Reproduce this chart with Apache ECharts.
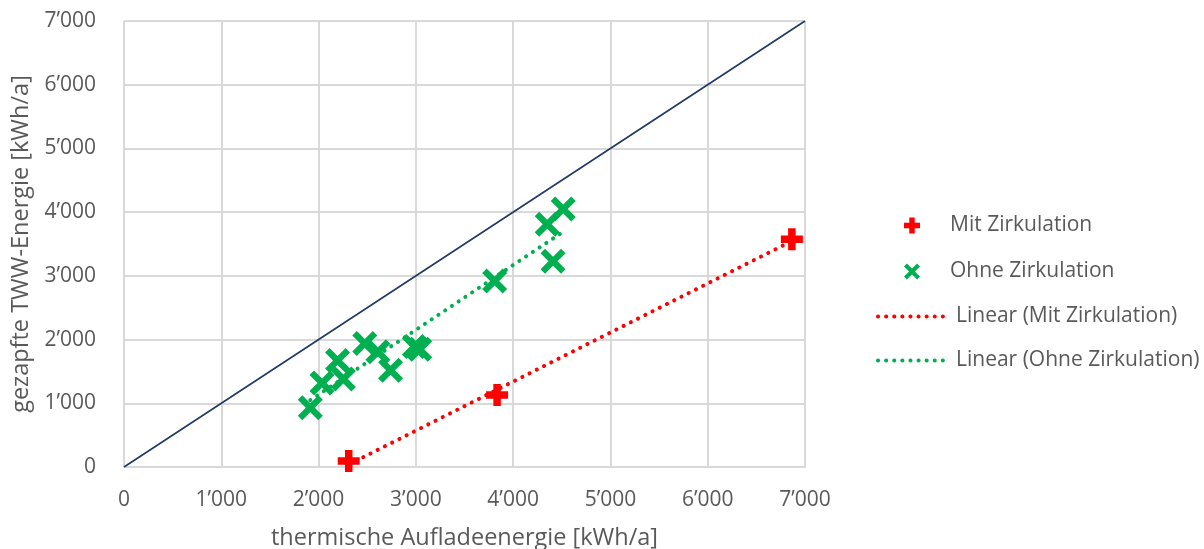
<!DOCTYPE html>
<html>
<head>
<meta charset="utf-8">
<script src="https://cdn.jsdelivr.net/npm/echarts@6/dist/echarts.min.js"></script>
<style>
  html, body { margin: 0; padding: 0; background: #fff; }
  #chart { width: 1204px; height: 549px; }
</style>
</head>
<body>
<div id="chart"></div>
<script>
// Measured systems: charging energy (x) vs. tapped hot-water energy (y), kWh/a
const mitZirkulation = [
  [2310, 95],
  [3835, 1130],
  [6865, 3575]
];
const ohneZirkulation = [
  [1915, 930],
  [2035, 1320],
  [2195, 1670],
  [2255, 1380],
  [2475, 1940],
  [2610, 1810],
  [2740, 1520],
  [2985, 1890],
  [3040, 1850],
  [3810, 2920],
  [4350, 3810],
  [4515, 4050],
  [4410, 3230]
];
// 1:1 reference line across the axis range
const diagonal = [[0, 0], [7000, 7000]];

const axisTicks = [0, 1000, 2000, 3000, 4000, 5000, 6000, 7000];

const seriesNames = {
  mit: 'Mit Zirkulation',
  ohne: 'Ohne Zirkulation',
  linMit: 'Linear (Mit Zirkulation)',
  linOhne: 'Linear (Ohne Zirkulation)'
};

// least-squares trend line spanning the data's x range
function trend(points) {
  const n = points.length;
  let sx = 0, sy = 0;
  points.forEach(p => { sx += p[0]; sy += p[1]; });
  const mx = sx / n, my = sy / n;
  let sxy = 0, sxx = 0;
  points.forEach(p => { sxy += (p[0] - mx) * (p[1] - my); sxx += (p[0] - mx) ** 2; });
  const b = sxy / sxx, a = my - b * mx;
  const xs = points.map(p => p[0]);
  const x0 = Math.min(...xs), x1 = Math.max(...xs);
  return [[x0, a + b * x0], [x1, a + b * x1]];
}

function fmt(v) {
  return String(v).replace(/\B(?=(\d{3})+(?!\d))/g, '\u2019');
}

const FONT = '"Open Sans", sans-serif';
const TEXT = '#595959';
const PLUS = 'path://M3.3,0H6.7V3.3H10V6.7H6.7V10H3.3V6.7H0V3.3H3.3Z';
const CROSS = 'path://M1.8,0L5,3.2L8.2,0L10,1.8L6.8,5L10,8.2L8.2,10L5,6.8L1.8,10L0,8.2L3.2,5L0,1.8Z';
const DOTS = { width: 4, type: [0.1, 8], cap: 'round' };

const chart = echarts.init(document.getElementById('chart'));
chart.setOption({
  animation: false,
  backgroundColor: '#ffffff',
  textStyle: { fontFamily: FONT },
  grid: { left: 124, right: 399, top: 21, bottom: 82, containLabel: false, outerBoundsMode: 'none' },
  xAxis: {
    type: 'value', min: axisTicks[0], max: axisTicks[axisTicks.length - 1], interval: 1000,
    name: 'thermische Aufladeenergie [kWh/a]',
    nameLocation: 'middle', nameGap: 59,
    nameTextStyle: { color: TEXT, fontSize: 23.5, fontFamily: FONT },
    axisLine: { show: true, lineStyle: { color: '#D9D9D9', width: 2 } },
    axisTick: { show: false },
    axisLabel: { color: TEXT, fontSize: 21, margin: 23, formatter: fmt, fontFamily: FONT },
    splitLine: { show: true, lineStyle: { color: '#D9D9D9', width: 2 } }
  },
  yAxis: {
    type: 'value', min: axisTicks[0], max: axisTicks[axisTicks.length - 1], interval: 1000,
    name: 'gezapfte TWW-Energie [kWh/a]',
    nameLocation: 'middle', nameGap: 91,
    nameTextStyle: { color: TEXT, fontSize: 23.5, fontFamily: FONT },
    axisLine: { show: false },
    axisTick: { show: false },
    axisLabel: { color: TEXT, fontSize: 21, margin: 28, formatter: fmt, fontFamily: FONT },
    splitLine: { show: true, lineStyle: { color: '#D9D9D9', width: 2 } }
  },
  legend: [
    {
      data: [seriesNames.mit, seriesNames.ohne],
      orient: 'vertical', left: 899, top: 210,
      itemWidth: 16, itemHeight: 16, itemGap: 25,
      textStyle: { color: TEXT, fontSize: 21, fontFamily: FONT, padding: [0, 0, 0, 25] }
    },
    {
      data: [seriesNames.linMit, seriesNames.linOhne],
      orient: 'vertical', left: 871, top: 301,
      itemWidth: 71, itemHeight: 14, itemGap: 23,
      itemStyle: { opacity: 0 },
      lineStyle: DOTS,
      textStyle: { color: TEXT, fontSize: 21, fontFamily: FONT, padding: [0, 0, 0, 2] }
    }
  ],
  series: [
    {
      name: 'diagonal', type: 'line', data: diagonal, symbol: 'none',
      lineStyle: { color: '#1F3864', width: 1.6 }, z: 1, silent: true
    },
    {
      name: seriesNames.linMit, type: 'line', data: trend(mitZirkulation), symbol: 'none',
      lineStyle: Object.assign({ color: '#FF0000' }, DOTS), z: 2
    },
    {
      name: seriesNames.linOhne, type: 'line', data: trend(ohneZirkulation), symbol: 'none',
      lineStyle: Object.assign({ color: '#00B050' }, DOTS), z: 2
    },
    {
      name: seriesNames.mit, type: 'scatter', data: mitZirkulation,
      symbol: PLUS, symbolSize: 22,
      itemStyle: { color: '#FF0000', opacity: 1 }, z: 3
    },
    {
      name: seriesNames.ohne, type: 'scatter', data: ohneZirkulation,
      symbol: CROSS, symbolSize: 25,
      itemStyle: { color: '#00B050', opacity: 1 }, z: 3
    }
  ]
});
</script>
</body>
</html>
